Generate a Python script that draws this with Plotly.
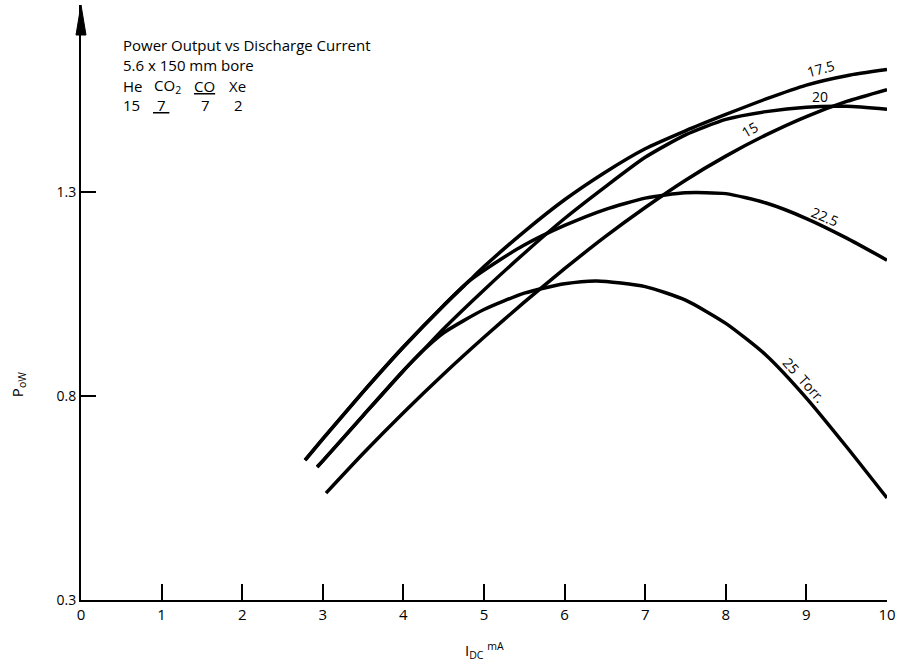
import plotly.graph_objects as go

# ---- data ----
x_15 = [3.04, 3.5, 4.0, 4.5, 5.0, 5.5, 6.0, 6.5, 7.0, 7.5, 8.0, 8.5, 9.0, 9.5, 10.0]
y_15 = [0.562, 0.659, 0.759, 0.854, 0.944, 1.03, 1.112, 1.19, 1.262, 1.329, 1.388, 1.44, 1.485, 1.522, 1.551]

x_175 = [2.78, 3.0, 3.5, 4.0, 4.5, 4.81, 5.0, 5.5, 6.0, 6.5, 7.0, 7.5, 8.0, 8.5, 9.0, 9.5, 10.0]
y_175 = [0.643, 0.695, 0.81, 0.92, 1.022, 1.081, 1.117, 1.203, 1.281, 1.348, 1.406, 1.45, 1.49, 1.528, 1.562, 1.585, 1.60]

x_20 = [2.93, 3.0, 3.5, 4.0, 4.23, 4.5, 5.0, 5.5, 6.0, 6.5, 7.0, 7.5, 8.0, 8.5, 9.0, 9.5, 10.0]
y_20 = [0.626, 0.641, 0.752, 0.862, 0.909, 0.965, 1.06, 1.15, 1.235, 1.312, 1.385, 1.44, 1.478, 1.497, 1.508, 1.51, 1.503]

x_225 = [2.78, 3.0, 3.5, 4.0, 4.5, 4.81, 5.2, 5.5, 6.0, 6.5, 7.0, 7.5, 8.0, 8.5, 9.0, 9.5, 10.0]
y_225 = [0.643, 0.695, 0.81, 0.92, 1.022, 1.081, 1.134, 1.17, 1.218, 1.257, 1.285, 1.298, 1.296, 1.273, 1.235, 1.187, 1.133]

x_25 = [2.93, 3.0, 3.5, 4.0, 4.23, 4.5, 5.0, 5.5, 6.0, 6.4, 7.0, 7.5, 8.0, 8.5, 9.0, 9.5, 10.0]
y_25 = [0.626, 0.641, 0.752, 0.862, 0.909, 0.955, 1.012, 1.052, 1.075, 1.082, 1.068, 1.035, 0.978, 0.90, 0.795, 0.675, 0.55]

x_ticks = [0, 1, 2, 3, 4, 5, 6, 7, 8, 9, 10]
y_ticks = [0.3, 0.8, 1.3]
y_tick_text = ["0.3", "0.8", "1.3"]

series = [
    (x_15, y_15), (x_175, y_175), (x_20, y_20), (x_225, y_225), (x_25, y_25)
]

curve_labels = [
    # text, x, y, angle
    ("17.5", 9.18, 1.602, -15),
    ("20", 9.17, 1.533, 0),
    ("15", 8.3, 1.452, -30),
    ("22.5", 9.23, 1.239, 23),
    ("25  Torr.", 8.98, 0.839, 48),
]

FONT = "Open Sans"

# plot area geometry (page pixels)
PLOT_W = 808
PLOT_H = 595
X0_PAGE = 81
Y0_PAGE = 600


def px(xp):
    return (xp - X0_PAGE) / PLOT_W


def py(yp):
    return (Y0_PAGE - yp) / PLOT_H


fig = go.Figure()
for xs, ys in series:
    fig.add_trace(go.Scatter(
        x=xs, y=ys, mode="lines",
        line=dict(color="black", width=3.5, shape="spline", smoothing=0.6),
        hoverinfo="skip",
    ))

for txt, lx, ly, ang in curve_labels:
    fig.add_annotation(x=lx, y=ly, xref="x", yref="y", text=txt, showarrow=False,
                       textangle=ang, font=dict(family=FONT, size=14, color="black"))

# header text block
hfont = dict(family=FONT, size=15, color="black")
fig.add_annotation(x=px(121), y=py(45), xref="paper", yref="paper",
                   text="Power Output vs Discharge Current", showarrow=False,
                   xanchor="left", yanchor="middle", font=hfont)
fig.add_annotation(x=px(121), y=py(65), xref="paper", yref="paper",
                   text="5.6 x 150 mm bore", showarrow=False,
                   xanchor="left", yanchor="middle", font=hfont)
row3 = [("He", 121), ("CO<sub>2</sub>", 152), ("<u>CO</u>", 192), ("Xe", 227)]
row4 = [("15", 121), ("<u> 7 </u>", 151), ("7", 199), ("2", 232)]
for txt, xp in row3:
    fig.add_annotation(x=px(xp), y=py(86), xref="paper", yref="paper", text=txt,
                       showarrow=False, xanchor="left", yanchor="middle", font=hfont)
for txt, xp in row4:
    fig.add_annotation(x=px(xp), y=py(105), xref="paper", yref="paper", text=txt,
                       showarrow=False, xanchor="left", yanchor="middle", font=hfont)

# axis titles
fig.add_annotation(x=px(486), y=py(650), xref="paper", yref="paper",
                   xanchor="center", yanchor="middle",
                   text="I<sub>DC</sub> <sup>mA</sup>",
                   showarrow=False, font=dict(family=FONT, size=15, color="black"))
fig.add_annotation(x=px(18), y=py(385), xref="paper", yref="paper",
                   xanchor="center", yanchor="middle",
                   text="P<sub>oW</sub>", textangle=-90,
                   showarrow=False, font=dict(family=FONT, size=15, color="black"))

# arrow head on top of y axis
fig.add_shape(type="path", xref="paper", yref="paper", xsizemode="pixel", ysizemode="pixel",
              xanchor=0, yanchor=1, path="M0,0 L-5,-30 L5,-30 Z",
              fillcolor="black", line=dict(color="black", width=1))

fig.update_layout(
    width=901, height=668,
    margin=dict(l=81, r=12, t=5, b=68),
    plot_bgcolor="white", paper_bgcolor="white",
    showlegend=False,
    xaxis=dict(range=[0, 10], tickvals=x_ticks, ticks="inside", ticklen=16, tickwidth=2,
               tickcolor="black", showline=True, linewidth=2, linecolor="black",
               showgrid=False, zeroline=False, ticklabeloverflow="allow",
               tickfont=dict(family=FONT, size=15, color="black")),
    yaxis=dict(range=[0.3, 0.3 + PLOT_H / 408.0], tickvals=y_ticks, ticktext=y_tick_text,
               ticks="inside", ticklen=15, tickwidth=2, tickcolor="black", showline=True,
               linewidth=2, linecolor="black", showgrid=False, zeroline=False,
               tickfont=dict(family=FONT, size=14, color="black")),
)

fig.write_html("out.html", config={"displayModeBar": False},
               post_script="document.body.style.margin='0';document.body.style.overflow='hidden';")
